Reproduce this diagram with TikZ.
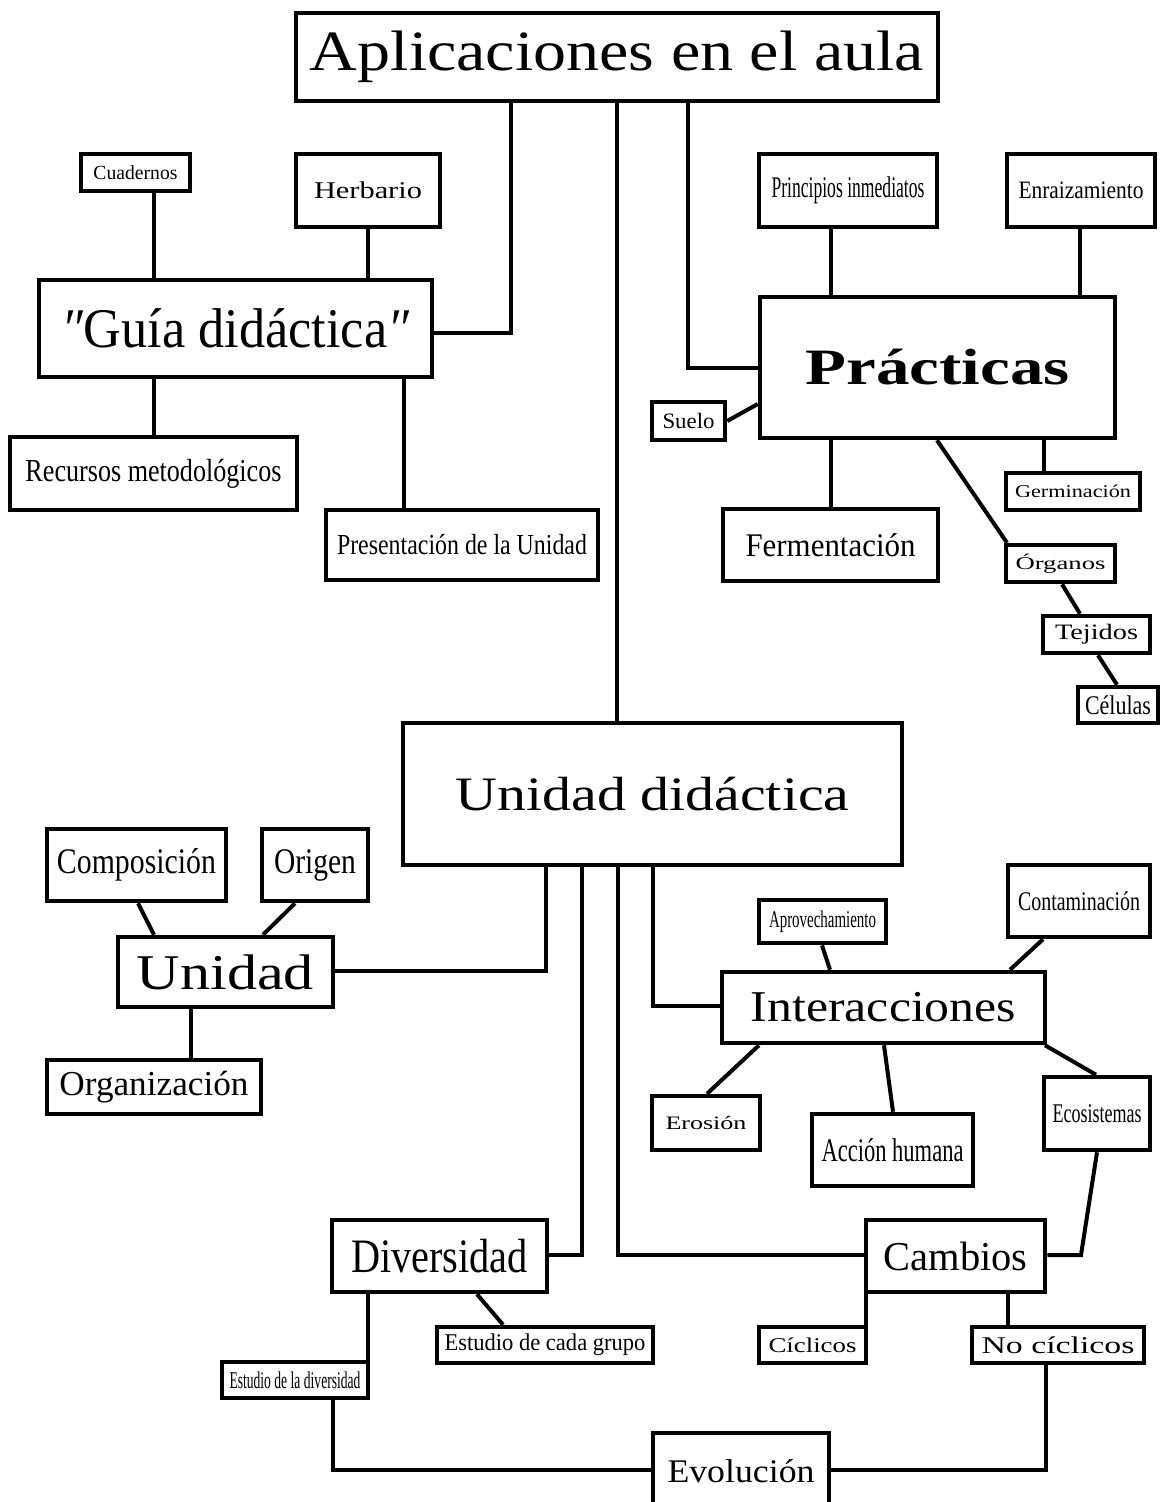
\documentclass[tikz,border=0pt]{standalone}
\usepackage{fontspec}
\setmainfont{Liberation Serif}
\usepackage{graphicx}
\newcommand\tx[3]{\resizebox{#2pt}{\height}{\fontsize{#1pt}{#1pt}\selectfont #3}}
\newcommand\bx[6]{\node[bxs,minimum width={(#4)-(#2)},minimum height={(#5)-(#3)}] (#1) at ({((#2)+(#4))/2},{((#3)+(#5))/2}) {#6};}
\tikzset{
  bxs/.style={draw,line width=4.5pt,inner sep=0pt,fill=white},
  ln/.style={line width=4pt}
}
\begin{document}
\begin{tikzpicture}[x=1pt,y=-1pt]
\useasboundingbox (0,0) rectangle (1171,1502);
\fill[white] (0,0) rectangle (1171,1502);
% boxes
\bx{apl}{296}{13}{938}{101}{\tx{57}{614}{Aplicaciones en el aula}}
\bx{cuad}{81}{154}{190}{191}{\tx{20}{84}{Cuadernos}}
\bx{herb}{296}{154}{440}{227}{\tx{24}{108}{Herbario}}
\bx{guia}{39}{280}{432}{377}{\tx{56}{348}{\textit{″}Guía didáctica\textit{″}}}
\bx{rec}{10}{437}{297}{510}{\tx{32}{256}{Recursos metodológicos}}
\bx{pres}{326}{510}{598}{580}{\tx{29}{250}{Presentación de la Unidad}}
\bx{pi}{759}{154}{937}{227}{\tx{30}{153}{Principios inmediatos}}
\bx{enr}{1007}{154}{1155}{227}{\tx{25}{125}{Enraizamiento}}
\bx{prac}{760}{297}{1115}{438}{\tx{51}{264}{\bfseries Prácticas}}
\bx{suelo}{652}{402}{725}{440}{\tx{22}{52}{Suelo}}
\bx{ferm}{723}{509}{938}{581}{\tx{33}{170}{Fermentación}}
\bx{germ}{1006}{473}{1140}{510}{\tx{18}{116}{Germinación}}
\bx{org}{1006}{545}{1115}{582}{\tx{18}{90}{Órganos}}
\bx{tej}{1043}{616}{1150}{653}{\tx{22}{83}{Tejidos}}
\bx{cel}{1078}{687}{1158}{723}{\tx{27}{66}{Células}}
\bx{ud}{403}{723}{902}{865}{\tx{48}{394}{Unidad didáctica}}
\bx{comp}{47}{829}{226}{901}{\tx{36}{159}{Composición}}
\bx{orig}{262}{829}{368}{901}{\tx{36}{82}{Origen}}
\bx{uni}{118}{937}{333}{1007}{\tx{50}{177}{Unidad}}
\bx{orgz}{47}{1060}{261}{1114}{\tx{35}{189}{Organización}}
\bx{apr}{759}{900}{886}{943}{\tx{24}{107}{Aprovechamiento}}
\bx{cont}{1008}{865}{1150}{937}{\tx{27}{122}{Contaminación}}
\bx{inter}{722}{972}{1045}{1043}{\tx{44}{265}{Interacciones}}
\bx{eros}{652}{1096}{760}{1150}{\tx{19}{81}{Erosión}}
\bx{acc}{812}{1114}{973}{1186}{\tx{33}{142}{Acción humana}}
\bx{eco}{1044}{1077}{1150}{1150}{\tx{27}{89}{Ecosistemas}}
\bx{div}{332}{1220}{547}{1292}{\tx{48}{177}{Diversidad}}
\bx{edc}{437}{1327}{653}{1363}{\tx{24}{201}{Estudio de cada grupo}}
\bx{edd}{222}{1362}{368}{1398}{\tx{24}{131}{Estudio de la diversidad}}
\bx{camb}{866}{1220}{1045}{1292}{\tx{41}{144}{Cambios}}
\bx{cic}{759}{1327}{866}{1363}{\tx{21}{88}{Cíclicos}}
\bx{nocic}{972}{1327}{1144}{1363}{\tx{24}{153}{No cíclicos}}
\node[inner sep=0pt,minimum width=176,minimum height=76] (evo) at (741,1471) {\tx{33}{147}{Evolución}};
\draw[line width=4.5pt] (evo.north west |- 0,1502) -- (evo.north west) -- (evo.north east) -- (evo.north east |- 0,1502);
% connectors
\begin{scope}[ln]
\draw (apl.south -| 511,0) |- (guia.east |- 0,333);
\draw (apl.south -| 617,0) -- (ud.north -| 617,0);
\draw (apl.south -| 688,0) |- (prac.west |- 0,368);
\draw (cuad.south -| 154,0) -- (guia.north -| 154,0);
\draw (herb.south) -- (guia.north -| herb.south);
\draw (guia.south -| 154,0) -- (rec.north -| 154,0);
\draw (guia.south -| 404,0) -- (pres.north -| 404,0);
\draw (pi.south -| 831,0) -- (prac.north -| 831,0);
\draw (enr.south -| 1080,0) -- (prac.north -| 1080,0);
\draw (suelo.east) -- (prac.west |- 0,404);
\draw (prac.south -| 831,0) -- (ferm.north -| 831,0);
\draw (prac.south -| 1044,0) -- (germ.north -| 1044,0);
\draw (prac.south -| 937,0) -- (org.north -| 1007,0);
\draw (org.south -| 1062,0) -- (tej.north -| 1080,0);
\draw (tej.south -| 1098,0) -- (cel.north -| 1117,0);
\draw (ud.south -| 546,0) |- (uni.east |- 0,971);
\draw (ud.south -| 582,0) |- (div.east |- 0,1255);
\draw (ud.south -| 618,0) |- (camb.west |- 0,1255);
\draw (ud.south -| 653,0) |- (inter.west |- 0,1006);
\draw (comp.south -| 138,0) -- (uni.north -| 154,0);
\draw (orig.south -| 295,0) -- (uni.north -| 263,0);
\draw (uni.south -| 191,0) -- (orgz.north -| 191,0);
\draw (apr.south -| 822,0) -- (inter.north -| 830,0);
\draw (cont.south -| 1043,0) -- (inter.north -| 1010,0);
\draw (inter.south -| 759,0) -- (eros.north -| 707,0);
\draw (inter.south -| 884,0) -- (acc.north -| 893,0);
\draw (inter.south -| 1045,0) -- (eco.north -| 1096,0);
\draw (eco.south -| 1097,0) -- (1081,1255) -- (camb.east |- 0,1255);
\draw (div.south -| 477,0) -- (edc.north -| 503,0);
\draw (div.south -| 368,0) -- (edd.north -| 368,0);
\draw (edd.south -| 333,0) |- (evo.west |- 0,1470);
\draw (camb.south -| 866,0) -- (cic.north -| 866,0);
\draw (camb.south -| 1008,0) -- (nocic.north -| 1008,0);
\draw (nocic.south -| 1046,0) |- (evo.east |- 0,1470);
\end{scope}
\end{tikzpicture}
\end{document}
